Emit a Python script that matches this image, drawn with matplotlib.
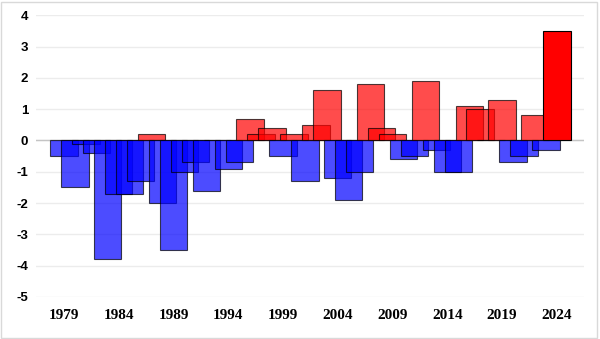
import matplotlib.pyplot as plt
from matplotlib.patches import Rectangle

years = list(range(1979, 2025))
values = [-0.5, -1.5, -0.1, -0.4, -3.8, -1.7, -1.7, -1.3, 0.2, -2.0,
          -3.5, -1.0, -0.7, -1.6, 0.0, -0.9, -0.7, 0.7, 0.2, 0.4,
          -0.5, 0.2, -1.3, 0.5, 1.6, -1.2, -1.9, -1.0, 1.8, 0.4,
          0.2, -0.6, -0.5, 1.9, -0.3, -1.0, -1.0, 1.1, 1.0, 0.0,
          1.3, -0.7, -0.5, 0.8, -0.3, 3.5]
tick_years = list(range(1979, 2025, 5))
y_ticks = list(range(-5, 5))


def main():
    fig = plt.figure(figsize=(6, 3.39), dpi=100)
    ax = fig.add_axes([0.06, 0.124, 0.913, 0.831])

    for y in y_ticks:
        ax.axhline(y, color="#ececec", lw=1, zorder=0)
    ax.axhline(0, color="#c4c4c4", lw=1, zorder=0.5)

    # every bar semi-transparent, the latest year solid
    for i, (yr, v) in enumerate(zip(years, values)):
        col = "red" if v > 0 else "blue"
        last = i == len(years) - 1
        ax.bar(yr, v, width=2.5, color=col, alpha=1.0 if last else 0.7,
               edgecolor=(0, 0, 0, 0.5), linewidth=0.8, zorder=2)

    ax.set_xlim(1976.45, 2026.46)
    ax.set_ylim(-5, 4)
    ax.set_xticks(tick_years)
    ax.set_xticklabels([str(t) for t in tick_years], family="Liberation Serif",
                       fontweight="bold", fontsize=11)
    ax.set_yticks(y_ticks)
    ax.set_yticklabels([str(t) for t in y_ticks], family="Liberation Sans",
                       fontweight="bold", fontsize=9.5)
    ax.tick_params(axis="x", length=0, pad=8.5)
    ax.tick_params(axis="y", length=0, pad=5.5)
    for s in ax.spines.values():
        s.set_visible(False)

    fig.patches.append(Rectangle((0.002, 0.004), 0.993, 0.99, transform=fig.transFigure,
                                 fill=False, edgecolor="#d9d9d9", lw=1))

    fig.savefig("out.png", dpi=100)


if __name__ == "__main__":
    main()
